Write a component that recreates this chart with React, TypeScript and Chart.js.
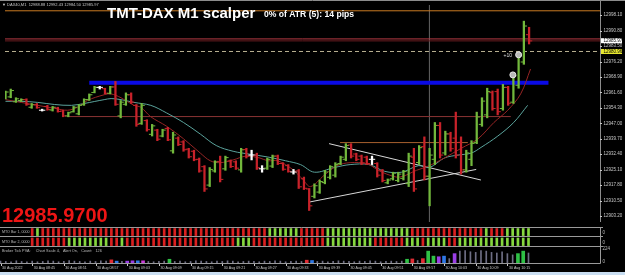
import React, { useEffect, useRef } from "react";
import { Chart, registerables } from "chart.js";
Chart.register(...registerables);

// ---------------- data ----------------
const opens = [
  12959.0, 12959.5, 12957.2, 12957.8, 12958.2, 12954.6, 12955.8, 12953.2, 12955.0, 12953.3,
  12954.2, 12952.8, 12950.5, 12952.5, 12951.5, 12955.8, 12958.2, 12961.6, 12964.0, 12963.4,
  12961.2, 12964.2, 12950.5, 12956.0, 12960.5, 12955.5, 12947.0, 12948.3, 12941.8, 12943.8,
  12941.0, 12944.6, 12934.0, 12940.0, 12938.2, 12934.8, 12933.8, 12930.0, 12926.5, 12917.8,
  12924.5, 12929.0, 12925.5, 12929.2, 12928.8, 12925.0, 12934.6, 12932.0, 12932.0, 12925.5,
  12925.8, 12926.8, 12931.5, 12928.0, 12927.0, 12924.0, 12924.5, 12920.8, 12916.0, 12912.5,
  12914.5, 12919.0, 12921.5, 12922.5, 12928.0, 12930.0, 12936.8, 12932.5, 12931.5, 12931.0,
  12930.0, 12928.0, 12924.6, 12918.9, 12920.8, 12920.0, 12921.0, 12918.5, 12931.0, 12928.5,
  12936.0, 12922.0, 12930.0, 12946.0, 12933.0, 12942.0, 12940.0, 12938.0, 12925.0, 12930.0,
  12938.0, 12946.5, 12951.0, 12961.5, 12962.0, 12954.0, 12964.0, 12957.0, 12965.0, 12976.0,
  12988.9,
];
const highs = [
  12962.3, 12963.2, 12959.1, 12958.6, 12958.6, 12956.4, 12956.4, 12953.7, 12955.5, 12955.0,
  12954.6, 12953.2, 12952.3, 12955.0, 12955.9, 12958.6, 12960.9, 12964.5, 12964.5, 12963.6,
  12964.5, 12966.8, 12957.8, 12961.4, 12961.4, 12955.9, 12956.4, 12948.7, 12946.5, 12944.2,
  12944.2, 12945.1, 12942.8, 12940.6, 12938.8, 12935.2, 12934.3, 12930.6, 12927.0, 12926.1,
  12929.3, 12931.5, 12931.5, 12929.7, 12929.3, 12935.2, 12935.2, 12934.3, 12932.9, 12927.0,
  12930.6, 12932.0, 12932.0, 12928.4, 12927.5, 12925.2, 12925.2, 12921.6, 12916.2, 12918.4,
  12920.2, 12924.8, 12927.0, 12928.4, 12931.5, 12937.4, 12937.4, 12932.9, 12932.0, 12931.5,
  12931.5, 12928.4, 12925.2, 12920.7, 12923.9, 12923.9, 12924.8, 12932.9, 12935.2, 12936.5,
  12940.6, 12935.2, 12947.4, 12947.4, 12943.3, 12942.8, 12952.3, 12940.6, 12934.3, 12938.8,
  12952.3, 12959.1, 12963.6, 12962.3, 12963.2, 12965.4, 12964.5, 12970.4, 12980.3, 12995.3,
  12992.4,
];
const lows = [
  12958.6, 12959.1, 12956.9, 12957.3, 12955.5, 12954.1, 12954.1, 12952.8, 12953.2, 12952.8,
  12952.3, 12950.1, 12950.1, 12952.3, 12951.0, 12955.5, 12957.8, 12961.4, 12963.2, 12960.9,
  12960.9, 12955.5, 12949.6, 12955.5, 12956.4, 12945.6, 12946.5, 12943.3, 12941.0, 12938.8,
  12940.6, 12938.8, 12932.9, 12936.5, 12933.8, 12930.6, 12929.3, 12923.9, 12914.8, 12917.1,
  12923.9, 12919.3, 12924.8, 12926.1, 12925.2, 12923.9, 12930.6, 12929.7, 12925.2, 12923.9,
  12925.2, 12926.1, 12927.5, 12924.8, 12923.9, 12923.0, 12916.2, 12915.7, 12905.8, 12911.7,
  12913.9, 12918.4, 12920.7, 12921.6, 12927.5, 12929.3, 12930.6, 12929.3, 12927.5, 12927.5,
  12927.5, 12921.6, 12919.3, 12918.4, 12920.2, 12919.3, 12920.2, 12917.1, 12914.8, 12927.5,
  12920.2, 12908.0, 12927.5, 12930.6, 12932.0, 12933.8, 12930.6, 12923.0, 12923.9, 12927.0,
  12937.4, 12945.6, 12949.6, 12953.2, 12951.0, 12953.2, 12955.5, 12956.4, 12963.6, 12974.9,
  12984.5,
];
const closes = [
  12961.8, 12962.5, 12958.6, 12958.2, 12956.0, 12955.8, 12954.4, 12953.2, 12953.6, 12954.6,
  12952.6, 12950.5, 12952.0, 12954.6, 12955.5, 12958.2, 12960.5, 12964.0, 12964.0, 12961.2,
  12964.2, 12956.0, 12957.0, 12960.5, 12957.0, 12946.5, 12955.5, 12944.0, 12945.8, 12939.5,
  12943.8, 12939.2, 12941.5, 12937.0, 12934.5, 12931.2, 12929.8, 12924.5, 12916.0, 12925.2,
  12928.8, 12920.5, 12930.8, 12926.6, 12925.8, 12934.5, 12931.5, 12932.0, 12926.0, 12925.5,
  12930.0, 12931.5, 12928.0, 12925.3, 12924.3, 12924.0, 12917.0, 12916.3, 12908.0, 12917.5,
  12919.5, 12924.0, 12926.5, 12927.5, 12931.0, 12936.5, 12931.5, 12930.0, 12928.3, 12928.0,
  12930.0, 12922.5, 12920.0, 12920.2, 12923.4, 12923.0, 12924.2, 12931.5, 12916.0, 12935.5,
  12922.0, 12932.0, 12946.0, 12932.0, 12942.0, 12935.0, 12932.0, 12925.0, 12933.0, 12937.5,
  12950.0, 12957.5, 12962.0, 12954.0, 12952.5, 12964.0, 12956.5, 12969.5, 12979.0, 12993.0,
  12985.97,
];

// moving averages (bar index, price)
const maFastIdx = [0, 6.16, 9.38, 11.84, 13.73, 15.63, 18.84, 20.17, 22.06, 24.53, 25.85, 27.75, 30.78, 34.0, 37.22, 39.11, 41.0, 43.47, 45.93, 48.58, 50.09, 51.99, 54.83, 56.72, 58.24, 60.89, 63.35, 65.81, 69.03, 70.93, 72.8, 75.28, 78.5, 80.97, 83.81, 87.03, 90.25, 93.28, 95.93, 98.39, 100.28];
const maFastVal = [12958.2, 12955.5, 12954.1, 12953.2, 12954.6, 12957.8, 12960.5, 12960.9, 12959.1, 12955.5, 12954.6, 12950.1, 12945.6, 12939.7, 12932.9, 12929.3, 12928.4, 12929.7, 12931.5, 12930.6, 12929.3, 12929.3, 12925.2, 12920.7, 12917.1, 12922.5, 12927.0, 12928.4, 12927.9, 12925.2, 12923.0, 12921.6, 12924.8, 12927.0, 12930.6, 12935.2, 12939.7, 12947.4, 12953.2, 12960.9, 12972.7];
const maSlowIdx = [0, 3.13, 6.16, 9.38, 12.6, 15.06, 16.95, 18.84, 20.17, 22.06, 24.53, 27.75, 30.78, 34.0, 37.22, 40.25, 43.47, 46.69, 50.09, 53.5, 56.34, 59.0, 62.78, 65.82, 69.41, 72.44, 75.66, 78.88, 80.97, 83.81, 86.46, 88.92, 90.81, 94.03, 97.06, 99.72];
const maSlowVal = [12957.4, 12957.4, 12956.9, 12955.9, 12955.5, 12956.4, 12957.3, 12958.2, 12958.7, 12958.2, 12956.9, 12955.5, 12951.9, 12947.4, 12941.9, 12936.5, 12933.8, 12932.4, 12931.1, 12929.3, 12927.5, 12923.9, 12926.1, 12927.5, 12927.5, 12924.3, 12923.9, 12927.0, 12926.1, 12930.6, 12932.0, 12932.9, 12935.6, 12941.0, 12947.4, 12955.5];

const priceTicks = [12998.1, 12990.8, 12983.5, 12976.2, 12968.9, 12961.6, 12954.3, 12947.0, 12939.7, 12932.4, 12925.1, 12917.8, 12910.5, 12903.2];
const timeLabels = ["30 Aug 2022", "30 Aug 08:45", "30 Aug 08:51", "30 Aug 08:57", "30 Aug 09:03", "30 Aug 09:09", "30 Aug 09:15", "30 Aug 09:21", "30 Aug 09:27", "30 Aug 09:33", "30 Aug 09:39", "30 Aug 09:45", "30 Aug 09:51", "30 Aug 09:57", "30 Aug 10:03", "30 Aug 10:09", "30 Aug 10:15"];
const timeTickIdx = [0, 6, 12, 18, 24, 30, 36, 42, 48, 54, 60, 66, 72, 78, 84, 90, 96];

const band1 = [
  0, 0, 0, 0, 0, 0, 0, 1, 0, 0,
  0, 0, 0, 0, 0, 0, 0, 0, 0, 0,
  0, 0, 0, 0, 0, 0, 0, 0, 0, 0,
  0, 0, 0, 0, 0, 0, 0, 0, 0, 0,
  0, 0, 0, 0, 0, 0, 0, 0, 0, 0,
  0, 1, 1, 1, 1, 1, 1, 0, 0, 0,
  0, 0, 1, 1, 1, 1, 1, 1, 1, 1,
  1, 1, 1, 1, 1, 1, 1, 1, 0, 0,
  0, 0, 0, 0, 0, 0, 0, 0, 0, 0,
  0, 0, 1, 0, 0, 0, 1, 1, 1, 1,
  1,
];
const band2 = [
  0, 0, 0, 0, 0, 0, 0, 0, 0, 0,
  0, 0, 0, 1, 1, 1, 1, 1, 1, 1,
  1, 0, 0, 1, 0, 0, 0, 0, 0, 0,
  0, 0, 0, 0, 0, 0, 0, 0, 0, 0,
  0, 0, 0, 0, 0, 1, 1, 1, 0, 0,
  0, 0, 0, 0, 0, 0, 0, 0, 0, 0,
  0, 0, 1, 1, 1, 1, 1, 1, 1, 1,
  1, 0, 0, 0, 0, 0, 0, 1, 1, 1,
  0, 1, 1, 1, 1, 0, 0, 1, 1, 1,
  1, 1, 1, 1, 1, 1, 1, 1, 1, 1,
  1,
];

const volumes = [
  30, 25, 20, 35, 25, 20, 30, 20, 25, 35, 30, 20, 25, 40, 30, 25, 20, 30, 25, 35, 30,
  50, 30, 25, 30, 35, 35, 35, 25, 20, 25, 30, 60,
  25, 30, 20, 25, 35, 30, 25, 20, 30, 25, 35, 30, 20, 25, 30, 25, 20, 30, 25, 35, 30, 20, 25, 30, 25,
  45, 40,
  25, 30, 20, 25, 35, 30, 25, 20, 30, 25, 35, 30, 20, 25, 30, 25, 30,
  60, 65, 40, 70, 190, 110, 100, 110, 70, 150, 190, 200, 180, 170, 200, 190, 170, 160, 180, 150, 130, 150, 190, 160,
];
// n normal, r red, b blue, p purple, m magenta, g green
const volKind = [
  "n", "n", "n", "n", "n", "n", "n", "n", "n", "n", "n", "n", "n", "n", "n", "n", "n", "n", "n", "n", "n",
  "r", "b", "n", "p", "p", "b", "m", "n", "n", "n", "n", "g",
  "n", "n", "n", "n", "n", "n", "n", "n", "n", "n", "n", "n", "n", "n", "n", "n", "n", "n", "n", "n", "n", "n", "n", "n", "n",
  "r", "b",
  "n", "n", "n", "n", "n", "n", "n", "n", "n", "n", "n", "n", "n", "n", "n", "n", "n",
  "g", "r", "n", "r", "g", "g", "p", "b", "n", "p", "n", "n", "n", "n", "n", "n", "n", "n", "n", "n", "n", "g", "g", "n",
];

const topLevel = 13000.2;
const highLevel = 12986.9;
const bidPrice = 12985.97;
const askPrice = 12980.96;
const blueLevel = 12966.2, blueFrom = 16.0, blueTo = 103.7;
const level2 = 12950.2, level2From = 11.8, level2To = 96.5;
const level3 = 12937.9, level3From = 63.9, level3To = 88.3;
const trend1Idx = [61.8, 90.8], trend1Val = [12937.4, 12920.2];
const trend2Idx = [58.05, 89.9], trend2Val = [12909.8, 12925.2];
const crosshairIdx = 80.97;
const markerIdx = [96.9, 98.0], markerVal = [12969.9, 12979.4];

const headerText = "\u25BC DAX40,M1  12988.88 12992.43 12984.50 12985.97";
const titleText = "TMT-DAX M1 scalper";
const atrText = "0% of ATR (5): 14 pips";
const bigPriceText = "12985.9700";

// ---------------- layout ----------------
const X_MIN = -0.5 / 5.28;
const X_MAX = X_MIN + 600 / 5.28;
const Y_MAX = 13002.94;
const Y_MIN = 13002.94 - 227 * 0.4519;
const FONT = '"Liberation Sans", Arial, sans-serif';
const GREEN = "#72b83c";
const RED = "#c8222a";

const barColor = (i: number) => (closes[i] > opens[i] ? GREEN : closes[i] < opens[i] ? RED : "#ffffff");
const idxs = opens.map((_, i) => i);

const baseOpts = (yMin: number, yMax: number) => ({
  animation: false as const,
  responsive: false,
  events: [] as any[],
  layout: { padding: 0 },
  plugins: { legend: { display: false }, tooltip: { enabled: false } },
  scales: {
    x: { type: "linear" as const, min: X_MIN, max: X_MAX, display: false, offset: false },
    y: {
      type: "linear" as const, position: "right" as const, min: yMin, max: yMax,
      grid: { display: false }, ticks: { display: false }, border: { display: false },
      afterFit: (s: any) => { s.width = 25; },
    },
  },
});

const hline = (price: number, from: number, to: number, color: string, width: number, order: number, dash: number[] = []) => ({
  type: "line" as const,
  data: [{ x: from, y: price }, { x: to, y: price }],
  borderColor: color, borderWidth: width, borderDash: dash, pointRadius: 0, order,
});

function mainConfig(): any {
  const plugin = {
    id: "mainText",
    afterDraw(chart: any) {
      const { ctx, chartArea: ca, scales } = chart;
      const ys = scales.y, xs = scales.x;
      ctx.save();
      ctx.strokeStyle = "#8c8c8c"; ctx.lineWidth = 1;
      ctx.beginPath(); ctx.moveTo(ca.right + 0.5, 0); ctx.lineTo(ca.right + 0.5, ca.bottom); ctx.stroke();
      ctx.beginPath(); ctx.moveTo(0, 0.5); ctx.lineTo(625, 0.5); ctx.stroke();
      ctx.textAlign = "left"; ctx.textBaseline = "alphabetic";
      ctx.fillStyle = "#c8c8c8"; ctx.font = `4px ${FONT}`;
      ctx.fillText(headerText, 2, 5.5);
      ctx.fillStyle = "#ffffff"; ctx.font = `bold 15px ${FONT}`;
      ctx.fillText(titleText, 107, 17.5);
      ctx.font = `bold 8.6px ${FONT}`;
      ctx.fillText(atrText, 264, 16.5);
      ctx.fillStyle = "#ee1515"; ctx.font = `bold 20px ${FONT}`;
      ctx.fillText(bigPriceText, 2, 222);
      ctx.font = `4.5px ${FONT}`; ctx.textBaseline = "middle";
      ctx.fillStyle = "#c8c8c8";
      priceTicks.forEach((v) => {
        const py = ys.getPixelForValue(v);
        ctx.fillRect(ca.right, Math.round(py), 2, 1);
        ctx.fillText(v.toFixed(2), ca.right + 3.5, py);
      });
      const by = ys.getPixelForValue(bidPrice);
      ctx.fillStyle = "#ffffff"; ctx.fillRect(ca.right + 1, by - 2.7, 21, 5);
      ctx.fillStyle = "#000"; ctx.fillText(bidPrice.toFixed(2), ca.right + 3.5, by);
      const ay = ys.getPixelForValue(askPrice);
      ctx.fillStyle = "#e8e830"; ctx.fillRect(ca.right + 1, ay - 2.5, 21, 5);
      ctx.fillStyle = "#000"; ctx.fillText(askPrice.toFixed(2), ca.right + 3.5, ay);
      ctx.fillStyle = "#dddddd"; ctx.font = `5px ${FONT}`;
      ctx.fillText("+10", xs.getPixelForValue(markerIdx[1]) - 15, ys.getPixelForValue(markerVal[1]) + 1);
      ctx.restore();
    },
  };
  return {
    type: "bar",
    data: {
      datasets: [
        {
          type: "scatter", order: 0,
          data: markerIdx.map((x, i) => ({ x, y: markerVal[i] })),
          pointRadius: 3, pointBackgroundColor: "#b8b8b8", pointBorderColor: "#e8e8e8", pointBorderWidth: 1,
        },
        {
          type: "bar", order: 1,
          data: idxs.map((i) => ({ x: i, y: [lows[i], highs[i]] })),
          backgroundColor: idxs.map(barColor), barThickness: 1.6, grouped: false,
        },
        {
          type: "scatter", order: 1,
          data: idxs.map((i) => ({ x: i - 0.36, y: opens[i] })),
          pointStyle: "line", pointRadius: 1.3, pointBorderWidth: 1, pointBorderColor: idxs.map(barColor),
        },
        {
          type: "scatter", order: 1,
          data: idxs.map((i) => ({ x: i + 0.36, y: closes[i] })),
          pointStyle: "line", pointRadius: 1.3, pointBorderWidth: 1, pointBorderColor: idxs.map(barColor),
        },
        {
          type: "line", order: 2,
          data: maFastIdx.map((x, i) => ({ x, y: maFastVal[i] })),
          borderColor: "#962424", borderWidth: 1, pointRadius: 0, tension: 0.35,
        },
        {
          type: "line", order: 2,
          data: maSlowIdx.map((x, i) => ({ x, y: maSlowVal[i] })),
          borderColor: "#5aa39c", borderWidth: 1, pointRadius: 0, tension: 0.35,
        },
        {
          type: "line", order: 3,
          data: trend1Idx.map((x, i) => ({ x, y: trend1Val[i] })),
          borderColor: "#d8d8d8", borderWidth: 1, pointRadius: 0,
        },
        {
          type: "line", order: 3,
          data: trend2Idx.map((x, i) => ({ x, y: trend2Val[i] })),
          borderColor: "#d8d8d8", borderWidth: 1, pointRadius: 0,
        },
        hline(blueLevel, blueFrom, blueTo, "#0a0ae6", 4, 3),
        hline(topLevel, X_MIN, X_MAX, "#c87a22", 1, 4),
        hline(highLevel, X_MIN, X_MAX, "#b83a44", 1, 4),
        hline(bidPrice, X_MIN, X_MAX, "#6a1c20", 1, 4),
        hline(askPrice, X_MIN, X_MAX, "#b8b090", 1, 4, [4, 3]),
        hline(level2, level2From, level2To, "#8a3434", 1, 4),
        hline(level3, level3From, level3To, "#a8602e", 1, 4),
        {
          type: "line", order: 5,
          data: [{ x: crosshairIdx, y: Y_MAX }, { x: crosshairIdx, y: Y_MIN }],
          borderColor: "#5a5a5a", borderWidth: 1, pointRadius: 0,
        },
      ],
    },
    options: baseOpts(Y_MIN, Y_MAX),
    plugins: [plugin],
  };
}

function bandConfig(states: number[], label: string, yMin: number, yMax: number, zeroY: number): any {
  const plugin = {
    id: "bandText",
    afterDraw(chart: any) {
      const { ctx, chartArea: ca } = chart;
      ctx.save();
      ctx.strokeStyle = "#9a9a9a"; ctx.lineWidth = 1;
      ctx.beginPath(); ctx.moveTo(0, 0.5); ctx.lineTo(ca.right + 3, 0.5); ctx.stroke();
      ctx.beginPath(); ctx.moveTo(ca.right + 0.5, 0); ctx.lineTo(ca.right + 0.5, ca.bottom); ctx.stroke();
      ctx.fillStyle = "#000"; ctx.fillRect(0, 1, 30, ca.bottom - 1);
      ctx.fillStyle = "#bcbcbc"; ctx.font = `3.6px ${FONT}`; ctx.textBaseline = "middle"; ctx.textAlign = "left";
      ctx.fillText(label, 2, ca.bottom / 2 + 0.5);
      ctx.font = `4.5px ${FONT}`;
      ctx.fillText("0", ca.right + 2.5, zeroY);
      ctx.restore();
    },
  };
  return {
    type: "bar",
    data: {
      datasets: [{
        data: idxs.map((i) => ({ x: i, y: [0, 1] })),
        backgroundColor: states.map((s) => (s ? "#86d83e" : "#dc2020")),
        barThickness: 2, grouped: false,
      }],
    },
    options: baseOpts(yMin, yMax),
    plugins: [plugin],
  };
}

const VOL_COLORS: Record<string, string> = { n: "#6e6e84", r: "#e02c34", b: "#2f78e6", p: "#9a3ee6", m: "#c83cd6", g: "#2fc046" };

function volConfig(): any {
  const plugin = {
    id: "volText",
    afterDraw(chart: any) {
      const { ctx, chartArea: ca, scales } = chart;
      const xs = scales.x;
      ctx.save();
      ctx.strokeStyle = "#9a9a9a"; ctx.lineWidth = 1;
      ctx.beginPath(); ctx.moveTo(0, 0.5); ctx.lineTo(ca.right + 3, 0.5); ctx.stroke();
      ctx.beginPath(); ctx.moveTo(0, ca.bottom + 0.5); ctx.lineTo(ca.right + 0.5, ca.bottom + 0.5); ctx.lineTo(ca.right + 0.5, 0); ctx.stroke();
      ctx.fillStyle = "#bcbcbc"; ctx.textAlign = "left"; ctx.textBaseline = "middle";
      ctx.font = `3.8px ${FONT}`;
      ctx.fillText("Broker Tick PVA:     Chart Scale 4,   Alert On,   Count:   126", 2, 4.8);
      ctx.font = `4.5px ${FONT}`;
      ctx.fillText("224", ca.right + 2.5, 2.8);
      ctx.fillText("0", ca.right + 2.5, 15.5);
      ctx.font = `3.6px ${FONT}`;
      ctx.fillStyle = "#c8c8c8";
      timeTickIdx.forEach((ti, k) => {
        const px = xs.getPixelForValue(ti);
        ctx.fillRect(Math.round(px), ca.bottom + 1, 1, 2);
        ctx.fillText(timeLabels[k], px + 1.5, ca.bottom + 4.5);
      });
      ctx.restore();
    },
  };
  const opts: any = baseOpts(0, 272);
  opts.layout = { padding: { bottom: 9 } };
  return {
    type: "bar",
    data: {
      datasets: [
        {
          data: idxs.map((i) => ({ x: i, y: volKind[i] === "n" ? null : volumes[i] })),
          backgroundColor: idxs.map((i) => VOL_COLORS[volKind[i]]),
          barThickness: 3, grouped: false,
        },
        {
          data: idxs.map((i) => ({ x: i, y: volKind[i] === "n" ? volumes[i] : null })),
          backgroundColor: VOL_COLORS.n,
          barThickness: 1, grouped: false,
        },
      ],
    },
    options: opts,
    plugins: [plugin],
  };
}

export default function App() {
  const mainRef = useRef<HTMLCanvasElement>(null);
  const b1Ref = useRef<HTMLCanvasElement>(null);
  const b2Ref = useRef<HTMLCanvasElement>(null);
  const volRef = useRef<HTMLCanvasElement>(null);
  useEffect(() => {
    document.body.style.margin = "0";
    document.body.style.background = "#000";
    const charts = [
      new Chart(mainRef.current!, mainConfig()),
      new Chart(b1Ref.current!, bandConfig(band1, "MTO Bar 1, 0000", -0.0563, 1.2113, 6)),
      new Chart(b2Ref.current!, bandConfig(band2, "MTO Bar 2, 0000", -0.0526, 1.2632, 6.5)),
      new Chart(volRef.current!, volConfig()),
    ];
    return () => charts.forEach((c) => c.destroy());
  }, []);
  const abs = (top: number): React.CSSProperties => ({ position: "absolute", left: 0, top });
  return (
    <div style={{ position: "fixed", left: 0, top: 0, width: 625, height: 275, background: "#000", overflow: "hidden" }}>
      <canvas ref={mainRef} width={625} height={227} style={abs(0)} />
      <canvas ref={b1Ref} width={625} height={9} style={abs(227)} />
      <canvas ref={b2Ref} width={625} height={10} style={abs(236)} />
      <canvas ref={volRef} width={625} height={26} style={abs(246)} />
      <div style={{ position: "absolute", left: 0, top: 272, width: 625, height: 3, background: "#c9def2" }} />
    </div>
  );
}
